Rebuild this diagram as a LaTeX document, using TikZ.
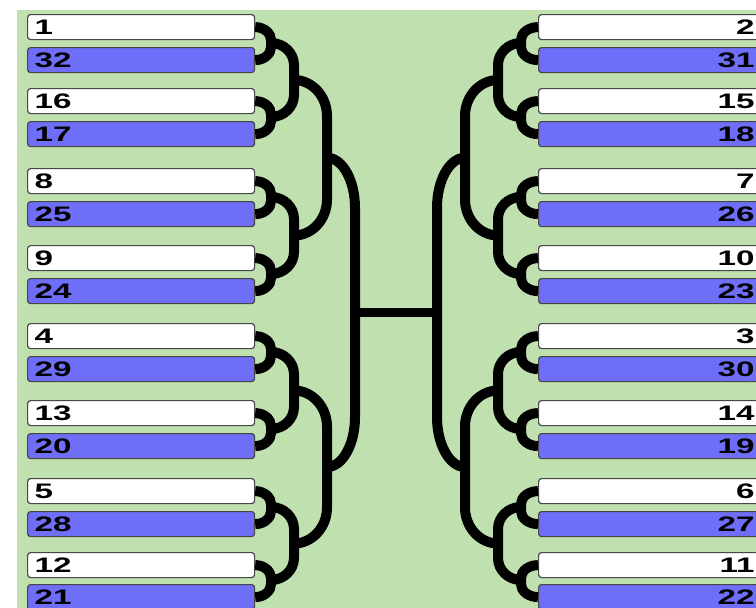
\documentclass[tikz,border=0pt]{standalone}
\usepackage{fontspec}
\usepackage{graphicx}
\usetikzlibrary{calc}
\setsansfont{Liberation Sans}
\definecolor{bg}{RGB}{193,224,176}
\definecolor{bluebox}{RGB}{110,110,248}
\definecolor{boxline}{RGB}{70,70,70}
\newcommand{\seedtxt}[1]{\scalebox{1.58}[1]{\fontsize{21}{21}\selectfont\sffamily\bfseries #1}}
% start, end, joint, curve extent
\newcommand{\bracketdraw}[4]{\draw[br] (#1) .. controls ($(#1)!0.55!(#1 -| #3)$) and ($(#1 -| #3)+(0,0.45*#4)$) .. ($(#1 -| #3)+(0,#4)$) -- ($(#2 -| #3)+(0,-#4)$) .. controls ($(#2 -| #3)+(0,-0.45*#4)$) and ($(#2)!0.55!(#2 -| #3)$) .. (#2);}
\begin{document}
\begin{tikzpicture}[x=1pt,y=-1pt,
  seedbox/.style={draw=boxline, line width=1.2pt, rounded corners=3pt,
    minimum height=25pt, inner xsep=7pt, inner ysep=0pt, anchor=north west},
  lbox/.style={seedbox, align=left, minimum width=227pt, text width=213pt},
  rbox/.style={seedbox, align=right, minimum width=223pt, text width=209pt},
  wf/.style={fill=white},
  bf/.style={fill=bluebox},
  br/.style={draw=black, line width=10pt},
  fin/.style={draw=black, line width=8.5pt}]
\useasboundingbox (0,0) rectangle (756,608);
\clip (0,0) rectangle (756,608);
\fill[white] (0,0) rectangle (756,608);
\fill[bg] (17,10) rectangle (760,612);
% left boxes
\node[lbox,wf] (L1)  at (27,14)  {\seedtxt{1}};
\node[lbox,bf] (L2)  at (27,47)  {\seedtxt{32}};
\node[lbox,wf] (L3)  at (27,88)  {\seedtxt{16}};
\node[lbox,bf] (L4)  at (27,121) {\seedtxt{17}};
\node[lbox,wf] (L5)  at (27,168) {\seedtxt{8}};
\node[lbox,bf] (L6)  at (27,201) {\seedtxt{25}};
\node[lbox,wf] (L7)  at (27,245) {\seedtxt{9}};
\node[lbox,bf] (L8)  at (27,278) {\seedtxt{24}};
\node[lbox,wf] (L9)  at (27,323) {\seedtxt{4}};
\node[lbox,bf] (L10) at (27,356) {\seedtxt{29}};
\node[lbox,wf] (L11) at (27,400) {\seedtxt{13}};
\node[lbox,bf] (L12) at (27,433) {\seedtxt{20}};
\node[lbox,wf] (L13) at (27,478) {\seedtxt{5}};
\node[lbox,bf] (L14) at (27,511) {\seedtxt{28}};
\node[lbox,wf] (L15) at (27,552) {\seedtxt{12}};
\node[lbox,bf] (L16) at (27,584) {\seedtxt{21}};
% right boxes
\node[rbox,wf] (R1)  at (538,14)  {\seedtxt{2}};
\node[rbox,bf] (R2)  at (538,47)  {\seedtxt{31}};
\node[rbox,wf] (R3)  at (538,88)  {\seedtxt{15}};
\node[rbox,bf] (R4)  at (538,121) {\seedtxt{18}};
\node[rbox,wf] (R5)  at (538,168) {\seedtxt{7}};
\node[rbox,bf] (R6)  at (538,201) {\seedtxt{26}};
\node[rbox,wf] (R7)  at (538,245) {\seedtxt{10}};
\node[rbox,bf] (R8)  at (538,278) {\seedtxt{23}};
\node[rbox,wf] (R9)  at (538,323) {\seedtxt{3}};
\node[rbox,bf] (R10) at (538,356) {\seedtxt{30}};
\node[rbox,wf] (R11) at (538,400) {\seedtxt{14}};
\node[rbox,bf] (R12) at (538,433) {\seedtxt{19}};
\node[rbox,wf] (R13) at (538,478) {\seedtxt{6}};
\node[rbox,bf] (R14) at (538,511) {\seedtxt{27}};
\node[rbox,wf] (R15) at (538,552) {\seedtxt{11}};
\node[rbox,bf] (R16) at (538,584) {\seedtxt{22}};
% bracket joints
\foreach \i/\y in {1/43,2/117,3/197,4/274,5/352,6/429,7/507,8/580}{
  \coordinate (LA\i) at (271,\y); \coordinate (RA\i) at (521,\y);}
\foreach \i/\y in {1/80,2/235.5,3/390.5,4/543.5}{
  \coordinate (LB\i) at (294,\y); \coordinate (RB\i) at (498,\y);}
\foreach \i/\y in {1/157.75,2/467}{
  \coordinate (LC\i) at (327,\y); \coordinate (RC\i) at (465,\y);}
\coordinate (LD) at (355,312.5);
\coordinate (RD) at (437,312.5);
% round 1
\foreach \i/\a/\b in {1/1/2,2/3/4,3/5/6,4/7/8,5/9/10,6/11/12,7/13/14,8/15/16}{
  \bracketdraw{L\a.east}{L\b.east}{LA\i}{13}
  \bracketdraw{R\a.west}{R\b.west}{RA\i}{13}}
% round 2
\foreach \i/\a/\b in {1/1/2,2/3/4,3/5/6,4/7/8}{
  \bracketdraw{LA\a}{LA\b}{LB\i}{22}
  \bracketdraw{RA\a}{RA\b}{RB\i}{22}}
% round 3
\foreach \i/\a/\b in {1/1/2,2/3/4}{
  \bracketdraw{LB\a}{LB\b}{LC\i}{36}
  \bracketdraw{RB\a}{RB\b}{RC\i}{36}}
% round 4
\bracketdraw{LC1}{LC2}{LD}{50}
\bracketdraw{RC1}{RC2}{RD}{50}
% final
\draw[fin] (LD) -- (RD);
\end{tikzpicture}
\end{document}
